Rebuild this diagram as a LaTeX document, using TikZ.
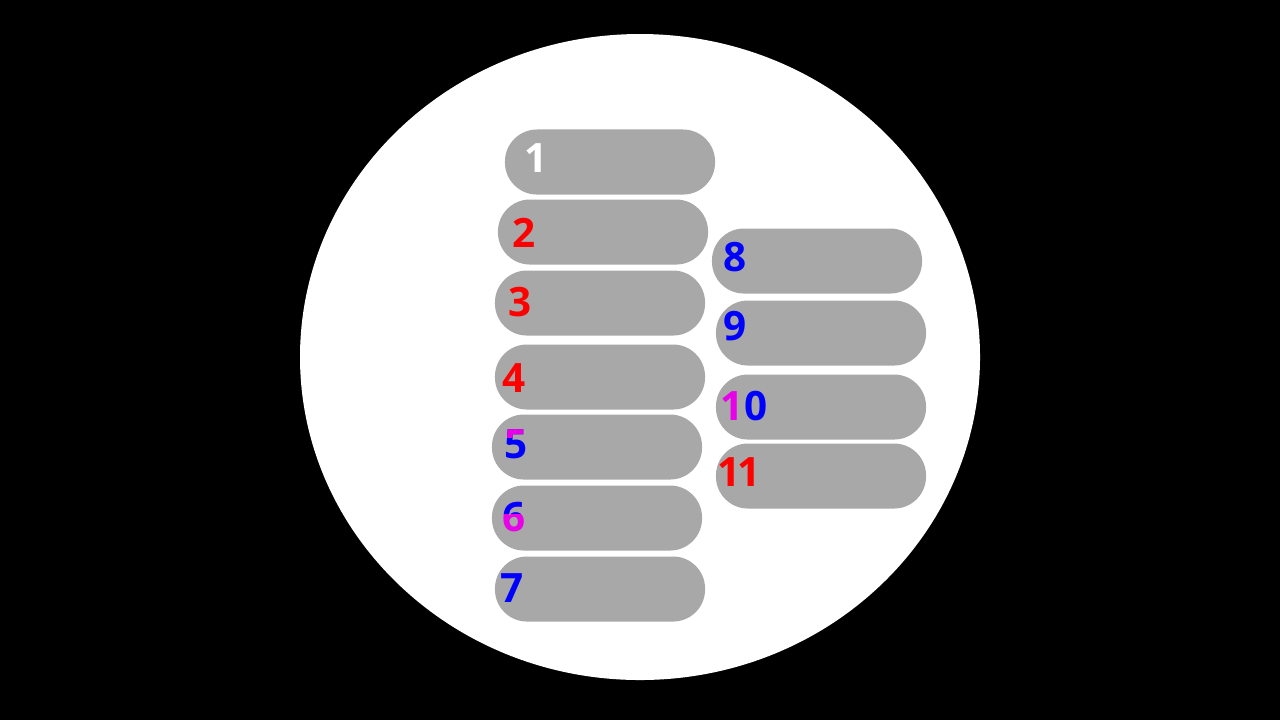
\documentclass[tikz,border=0pt]{standalone}
\usepackage{fontspec}
\setmainfont{Open Sans}
\usetikzlibrary{positioning}
\definecolor{pillgray}{RGB}{168,168,168}
\definecolor{inkred}{RGB}{255,0,0}
\definecolor{inkblue}{RGB}{0,0,255}
\definecolor{inkpink}{RGB}{232,0,232}

\begin{document}
\begin{tikzpicture}[x=0.01cm, y=-0.01cm,
        pill/.style={fill=pillgray, rounded corners=0.32cm, minimum width=2.1cm, minimum height=0.65cm, inner sep=0pt},
        num/.style={font=\fontsize{11.5}{11.5}\selectfont\bfseries, inner sep=0pt}]
        % frame and dish
        \fill[black] (0,0) rectangle (1280,720);
        \fill[white] (640,357) ellipse (340 and 323);

        % left column
        \node[pill] (p1) at (610,162) {};
        \node[pill] (p2) at (603,232) {};
        \node[pill] (p3) at (600,303) {};
        \node[pill] (p4) at (600,377) {};
        \node[pill] (p5) at (597,447) {};
        \node[pill] (p6) at (597,518) {};
        \node[pill] (p7) at (600,589) {};

        % right column
        \node[pill] (p8) at (817,261) {};
        \node[pill] (p9) at (821,333) {};
        \node[pill] (p10) at (821,407) {};
        \node[pill] (p11) at (821,476) {};

        % numbers
        \node[num, white] (n1) at (536,158) {1};
        \node[num, inkred] (n2) at (524,233) {2};
        \node[num, inkred] (n3) at (520,302) {3};
        \node[num, inkred] (n4) at (514,378) {4};
        \node[num, inkblue] (n5) at (516,444) {5};
        \begin{scope}
        \clip ([yshift=0.05cm]n5.north west) rectangle ([yshift=-0.085cm]n5.north east);
        \node[num, inkpink] at (n5) {5};
        \end{scope}
        \node[num, inkpink] (n6) at (514,517) {6};
        \begin{scope}
        \clip ([yshift=0.05cm]n6.north west) rectangle ([yshift=-0.12cm]n6.north east);
        \node[num, inkblue] at (n6) {6};
        \end{scope}
        \node[num, inkblue] (n7) at (512,588) {7};
        \node[num, inkblue] (n8) at (735,257) {8};
        \node[num, inkblue] (n9) at (735,326) {9};
        \node[num] (n10) at (744,406) {\textcolor{inkpink}{1}\textcolor{inkblue}{0}};
        \node[num, inkred] (n11) at (739,472) {1\kern-0.03cm 1};
\end{tikzpicture}
\end{document}
